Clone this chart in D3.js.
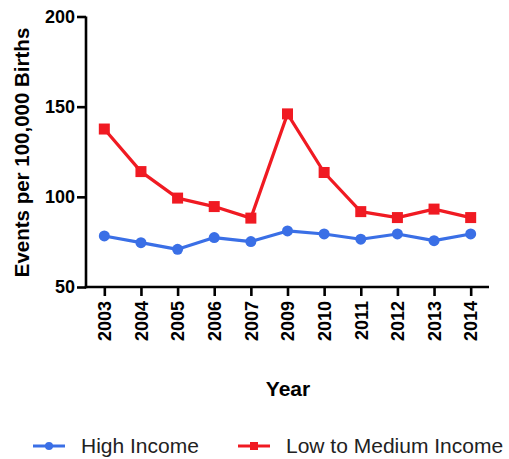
<!DOCTYPE html>
<html><head><meta charset="utf-8">
<script src="https://cdn.jsdelivr.net/npm/d3@7"></script>
<style>body{margin:0;background:#fff;} svg{display:block;}</style>
</head><body>
<svg id="c" width="509" height="459"></svg>
<script>
const years = ["2003","2004","2005","2006","2007","2009","2010","2011","2012","2013","2014"];
const highIncome = [78.3, 74.6, 70.9, 77.4, 75.2, 81.1, 79.4, 76.5, 79.4, 75.7, 79.4];
const lowMedIncome = [137.6, 114, 99.3, 94.6, 88.2, 146, 113.5, 91.8, 88.5, 93.2, 88.5];
const yTicks = [50, 100, 150, 200];
const seriesNames = ["High Income", "Low to Medium Income"];

const blue = "#3a6fe6", red = "#f01a22";
const svg = d3.select("#c");
const font = "'Liberation Sans', Arial, sans-serif";
const pL = 86, pR = 489, pT = 16.5, pB = 287;

const x = d3.scalePoint().domain(years).range([pL, pR]).padding(0.5);
const y = d3.scaleLinear().domain([50, 200]).range([pB, pT]);

// axes
const yAx = svg.append("g").attr("transform", `translate(${pL},0)`)
  .call(d3.axisLeft(y).tickValues(yTicks).tickSize(9).tickSizeOuter(0).tickPadding(2));
const xAx = svg.append("g").attr("transform", `translate(0,${pB})`)
  .call(d3.axisBottom(x).tickSize(9).tickSizeOuter(0));
[yAx, xAx].forEach(g => {
  g.select(".domain").attr("stroke", "#000").attr("stroke-width", 2.6);
  g.selectAll(".tick line").attr("stroke", "#000").attr("stroke-width", 2.6);
  g.selectAll("text").attr("fill", "#000").style("font-family", font)
    .style("font-weight", "bold").style("font-size", "18px");
});
yAx.select(".domain").attr("d", `M0,${pB + 1.3}V${pT}`);
xAx.select(".domain").attr("d", `M${pL - 1.3},0H${pR}`);
xAx.selectAll(".tick text")
  .attr("transform", "rotate(-90)")
  .attr("text-anchor", "end")
  .attr("x", -14).attr("y", 0).attr("dy", "0.35em");

// titles
svg.append("text").attr("transform", "translate(28.5,152.5) rotate(-90)")
  .attr("text-anchor", "middle").style("font-family", font).style("font-weight", "bold")
  .style("font-size", "20.5px").text("Events per 100,000 Births");
svg.append("text").attr("x", 288).attr("y", 396).attr("text-anchor", "middle")
  .style("font-family", font).style("font-weight", "bold").style("font-size", "21px").text("Year");

const line = d3.line().x((d, i) => x(years[i])).y(d => y(d));

// low-medium
svg.append("path").datum(lowMedIncome).attr("d", line).attr("fill", "none")
  .attr("stroke", red).attr("stroke-width", 3.2).attr("stroke-linejoin", "round");
svg.selectAll(".sq").data(lowMedIncome).enter().append("rect")
  .attr("x", (d, i) => x(years[i]) - 5.5).attr("y", d => y(d) - 5.5)
  .attr("width", 11).attr("height", 11).attr("fill", red);

// high
svg.append("path").datum(highIncome).attr("d", line).attr("fill", "none")
  .attr("stroke", blue).attr("stroke-width", 3.2).attr("stroke-linejoin", "round");
svg.selectAll(".ci").data(highIncome).enter().append("circle")
  .attr("cx", (d, i) => x(years[i])).attr("cy", d => y(d)).attr("r", 5.5).attr("fill", blue);

// legend
const leg = [{name: seriesNames[0], c: blue, shape: "c", x0: 33, tx: 81},
             {name: seriesNames[1], c: red, shape: "s", x0: 238, tx: 286}];
leg.forEach(l => {
  const g = svg.append("g");
  const ly = 446;
  g.append("line").attr("x1", l.x0).attr("x2", l.x0 + 32).attr("y1", ly).attr("y2", ly)
    .attr("stroke", l.c).attr("stroke-width", 3);
  if (l.shape === "c") g.append("circle").attr("cx", l.x0 + 16).attr("cy", ly).attr("r", 4).attr("fill", l.c);
  else g.append("rect").attr("x", l.x0 + 12).attr("y", ly - 4).attr("width", 8).attr("height", 8).attr("fill", l.c);
  g.append("text").attr("x", l.tx).attr("y", 453).style("font-family", font)
    .style("font-size", "21px").attr("fill", "#222").text(l.name);
});
</script>
</body></html>
